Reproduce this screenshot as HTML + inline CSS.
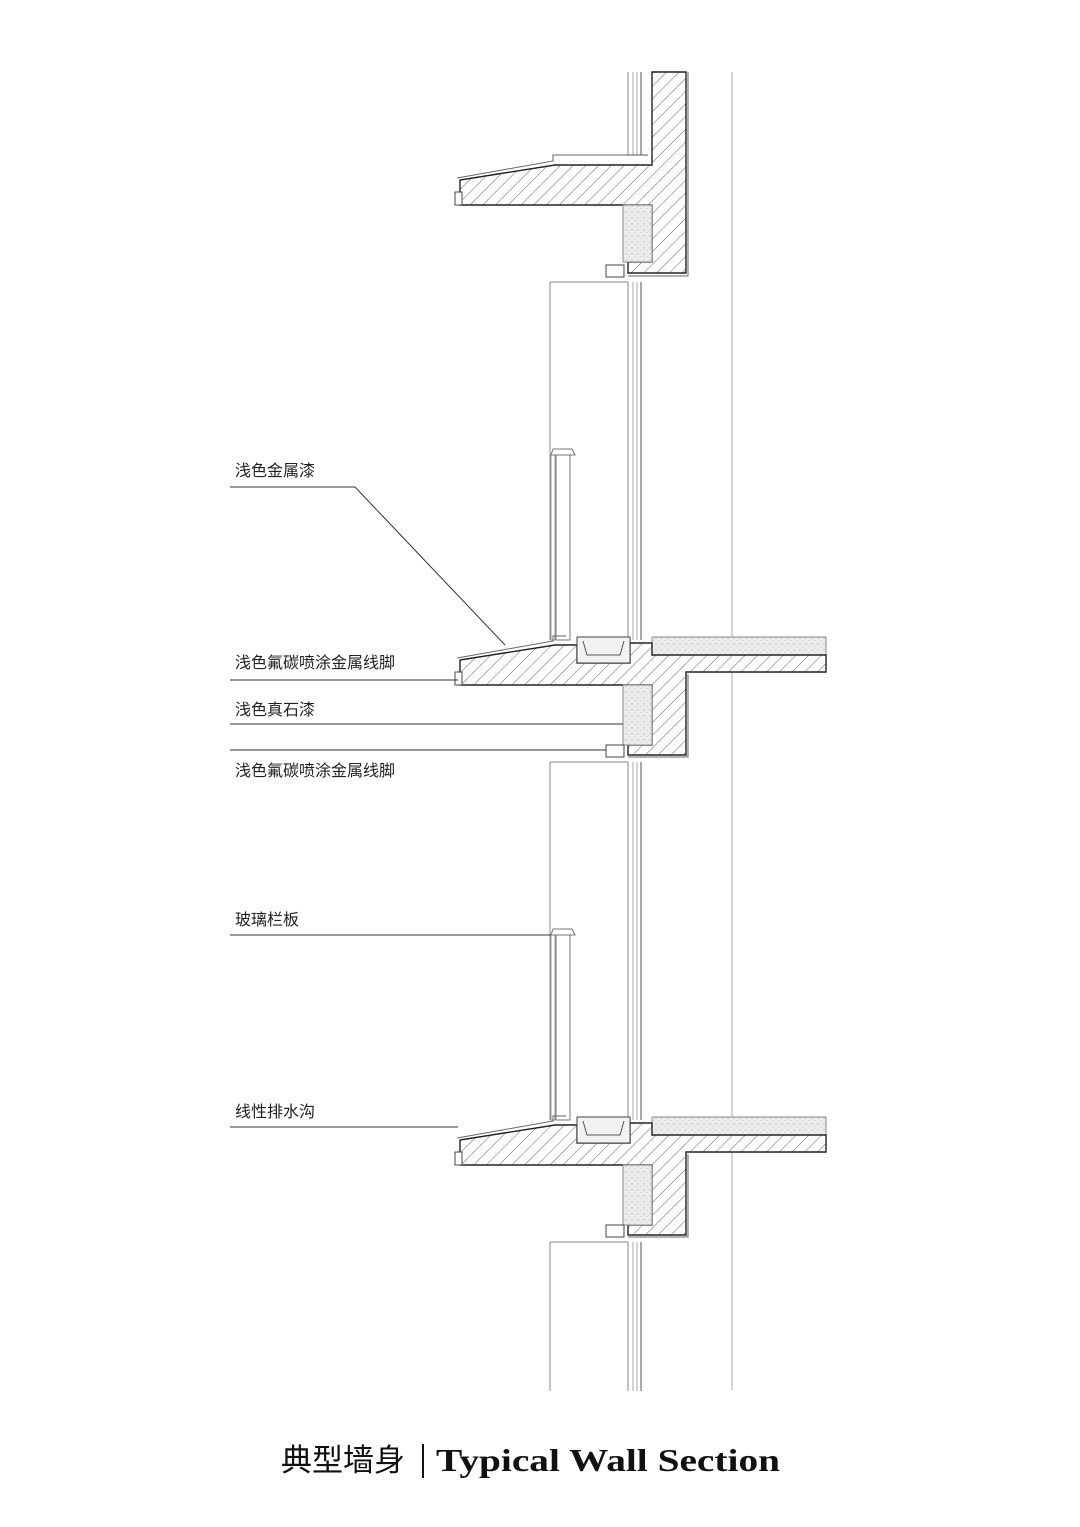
<!DOCTYPE html>
<html><head><meta charset="utf-8"><style>
html,body{margin:0;padding:0;background:#fff;}
svg{display:block;}
.t{font-family:"Liberation Sans","Noto Sans CJK SC",sans-serif;font-size:16px;fill:#222;}
</style></head><body>
<svg width="1080" height="1527" viewBox="0 0 1080 1527" xmlns="http://www.w3.org/2000/svg">
<defs>
<pattern id="h" patternUnits="userSpaceOnUse" width="9" height="9" patternTransform="rotate(45)">
<rect width="9" height="9" fill="#fff"/>
<line x1="0" y1="0" x2="0" y2="9" stroke="#555" stroke-width="0.9"/>
</pattern>
<pattern id="d" patternUnits="userSpaceOnUse" width="6" height="6">
<rect width="6" height="6" fill="#ececec"/>
<circle cx="2" cy="2" r="0.6" fill="#aaa"/><circle cx="5" cy="4.5" r="0.5" fill="#bbb"/>
</pattern>
<g id="mod">
<rect x="551" y="455" width="4" height="185" fill="none" stroke="#999" stroke-width="1"/>
<rect x="556" y="455" width="14" height="185" fill="none" stroke="#777" stroke-width="1"/>
<path d="M551,455 L553,449 L572,449 L575,455 Z" fill="#fff" stroke="#777" stroke-width="1"/>
<rect x="652" y="637" width="174" height="18" fill="url(#d)" stroke="#888" stroke-width="1"/>
<path d="M460,660 L555,645 L577,645 L577,663 L630,663 L630,643 L652,643 L652,655 L826,655 L826,672 L686,672 L686,755 L628,755 L628,745 L652,745 L652,685 L460,685 Z" fill="url(#h)" stroke="#222" stroke-width="1.4"/>
<path d="M457,658 L553,641 L553,636 L566,636" fill="none" stroke="#666" stroke-width="1"/>
<path d="M688,674 L688,757 L628,757" fill="none" stroke="#666" stroke-width="1"/>
<rect x="577" y="637" width="53" height="26" fill="#f2f2f2" stroke="#444" stroke-width="1"/>
<path d="M583,641 L587,655 L620,655 L624,641" fill="none" stroke="#555" stroke-width="1"/>
<rect x="623" y="685" width="29" height="60" fill="url(#d)" stroke="#888" stroke-width="1"/>
<rect x="606" y="745" width="18" height="12" fill="#fff" stroke="#444" stroke-width="1"/>
<rect x="455" y="672" width="7" height="13" fill="#fff" stroke="#444" stroke-width="1"/>
<path d="M550,762 L550,1120 M550,762 L628,762" fill="none" stroke="#888" stroke-width="1"/>
<g stroke-width="1">
<line x1="628" y1="762" x2="628" y2="1120" stroke="#888"/>
<line x1="633" y1="762" x2="633" y2="1120" stroke="#aaa"/>
<line x1="637" y1="762" x2="637" y2="1120" stroke="#aaa"/>
<line x1="641" y1="762" x2="641" y2="1120" stroke="#555"/>
</g>
</g>
</defs>
<line x1="732" y1="72" x2="732" y2="1390" stroke="#bbb" stroke-width="1.2"/>
<g stroke-width="1">
<line x1="628" y1="72" x2="628" y2="155" stroke="#888"/>
<line x1="633" y1="72" x2="633" y2="155" stroke="#aaa"/>
<line x1="637" y1="72" x2="637" y2="155" stroke="#aaa"/>
<line x1="641" y1="72" x2="641" y2="155" stroke="#555"/>
<line x1="628" y1="155" x2="648" y2="155" stroke="#555"/>
</g>
<path d="M652,72 L686,72 L686,273 L628,273 L628,262 L652,262 L652,205 L460,205 L460,180 L555,165 L652,165 Z" fill="url(#h)" stroke="#222" stroke-width="1.4"/>
<path d="M688,72 L688,276 L628,276" fill="none" stroke="#666" stroke-width="1"/>
<path d="M457,178 L553,161 L553,155 L628,155" fill="none" stroke="#666" stroke-width="1"/>
<rect x="623" y="205" width="29" height="57" fill="url(#d)" stroke="#888" stroke-width="1"/>
<rect x="606" y="265" width="18" height="12" fill="#fff" stroke="#444" stroke-width="1"/>
<rect x="455" y="192" width="7" height="13" fill="#fff" stroke="#444" stroke-width="1"/>
<path d="M550,282 L550,640 M550,282 L628,282" fill="none" stroke="#888" stroke-width="1"/>
<g stroke-width="1">
<line x1="628" y1="282" x2="628" y2="640" stroke="#888"/>
<line x1="633" y1="282" x2="633" y2="640" stroke="#aaa"/>
<line x1="637" y1="282" x2="637" y2="640" stroke="#aaa"/>
<line x1="641" y1="282" x2="641" y2="640" stroke="#555"/>
</g>
<use href="#mod"/>
<use href="#mod" transform="translate(0,480)"/>
<rect x="500" y="1391" width="300" height="140" fill="#fff"/>
<g stroke="#333" stroke-width="1" fill="none">
<path d="M230,487 L355,487 L505,645"/>
<line x1="230" y1="680" x2="458" y2="680"/>
<line x1="230" y1="724" x2="623" y2="724"/>
<line x1="230" y1="750" x2="606" y2="750"/>
<line x1="230" y1="935" x2="551" y2="935"/>
<line x1="230" y1="1127" x2="458" y2="1127"/>
</g>
<text class="t" x="235" y="476">浅色金属漆</text>
<text class="t" x="235" y="668">浅色氟碳喷涂金属线脚</text>
<text class="t" x="235" y="715">浅色真石漆</text>
<text class="t" x="235" y="776">浅色氟碳喷涂金属线脚</text>
<text class="t" x="235" y="925">玻璃栏板</text>
<text class="t" x="235" y="1117">线性排水沟</text>
<text x="281" y="1471" style="font-family:'Liberation Sans','Noto Sans CJK SC',sans-serif;font-size:31px;fill:#111;">典型墙身</text>
<line x1="423" y1="1444" x2="423" y2="1478" stroke="#111" stroke-width="2"/>
<text x="436" y="1471" textLength="344" lengthAdjust="spacingAndGlyphs" style="font-family:'Liberation Serif',serif;font-weight:bold;font-size:32px;fill:#111;">Typical Wall Section</text>
</svg>
</body></html>
